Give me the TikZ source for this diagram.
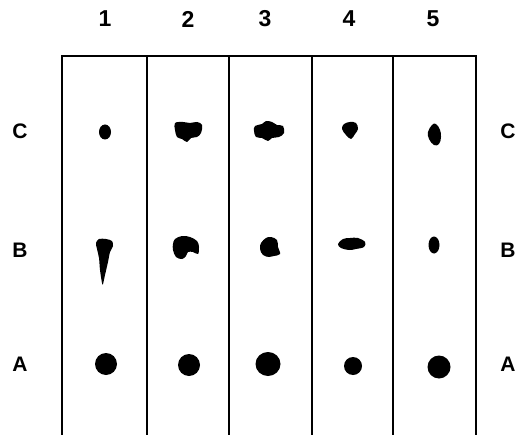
\documentclass[tikz,border=0pt]{standalone}
\usepackage{fontspec}
\setmainfont{Liberation Sans}
\tikzset{plate/.style={line width=1.8pt},lanelabel/.style={font=\bfseries\fontsize{23}{23}\selectfont,inner sep=0pt},rowlabel/.style={font=\bfseries\fontsize{21}{21}\selectfont,inner sep=0pt},spot/.style={fill=black,draw=none}}

\begin{document}
\begin{tikzpicture}[x=1pt,y=-1pt]
 \useasboundingbox (0,0) rectangle (518,435);
 % plate edges
 \foreach \k/\xx in {0/62,1/147,2/229,3/312,4/393,5/476} {
   \coordinate (t\k) at (\xx,56);
   \coordinate (b\k) at (\xx,435);
   \draw[plate] (t\k)--(b\k);
 }
 \draw[plate,line cap=rect] (t0)--(t5);
 % lane numbers
 \foreach \k/\xx in {1/105,2/188,3/265,4/349,5/433}
   \node[lanelabel] (lane\k) at (\xx,19) {\k};
 % row letters
 \foreach \r/\yy in {C/131,B/250,A/364} {
   \node[rowlabel] (\r left) at (20,\yy) {\r};
   \node[rowlabel] (\r right) at (508,\yy) {\r};
 }
 % row C
 \fill[spot] (105,132) ellipse [x radius=6,y radius=7.5];
 \fill[spot] plot[smooth cycle,tension=.6] coordinates {(175,123) (183,122) (190,123) (197,122) (202,125) (201,133) (197,137) (191,138) (187,142) (182,139) (177,137) (175,130)};
 \fill[spot] plot[smooth cycle,tension=.6] coordinates {(255,126) (262,124) (266,121) (272,122) (277,125) (283,126) (284,133) (279,137) (272,138) (268,141) (262,138) (256,137) (254,131)};
 \fill[spot] plot[smooth cycle,tension=.6] coordinates {(351,139) (346,135) (342,129) (344,124) (350,122) (356,123) (358,129) (355,134)};
 \fill[spot] plot[smooth cycle,tension=.7] coordinates {(432,125) (436,124) (440,130) (441,137) (439,144) (434,145) (429,139) (428,132)};
 % row B
 \fill[spot] plot[smooth cycle,tension=.5] coordinates {(102,283) (100,270) (99,258) (97,249) (96,243) (99,239) (106,239) (112,241) (113,246) (110,252) (108,262) (105,275) (103,284)};
 \fill[spot] plot[smooth cycle,tension=.6] coordinates {(175,239) (182,236) (190,237) (197,241) (199,247) (198,254) (193,252) (188,252) (186,256) (182,259) (176,257) (173,250) (173,244)};
 \fill[spot] plot[smooth cycle,tension=.6] coordinates {(261,243) (266,238) (271,237) (277,240) (278,247) (280,254) (274,256) (269,257) (263,255) (260,249)};
 \fill[spot] plot[smooth cycle,tension=.6] coordinates {(338,244) (343,239) (350,238) (358,238) (365,242) (364,247) (356,249) (349,250) (341,248)};
 \fill[spot] (434,245) ellipse [x radius=5.5,y radius=8.5];
 % row A
 \fill[spot] (106,364) circle [radius=11];
 \fill[spot] (189,365) circle [radius=11];
 \fill[spot] (268,364) ellipse [x radius=12.5,y radius=12];
 \fill[spot] (353,366) circle [radius=9];
 \fill[spot] (439,367) circle [radius=11.5];
\end{tikzpicture}
\end{document}
